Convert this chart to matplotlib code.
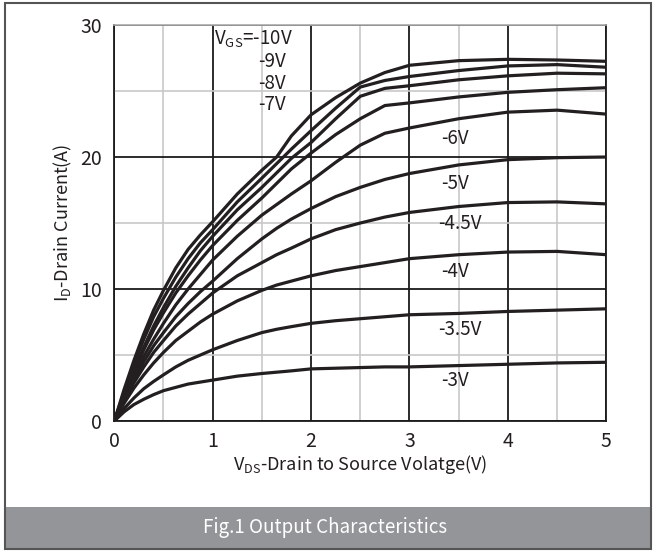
import numpy as np
import matplotlib
matplotlib.use("Agg")
import matplotlib.pyplot as plt
from matplotlib.patches import Rectangle

plt.rcParams['font.family'] = ['Noto Sans CJK SC', 'DejaVu Sans']
plt.rcParams['mathtext.fontset'] = 'custom'
plt.rcParams['mathtext.rm'] = 'Noto Sans CJK SC'
plt.rcParams['mathtext.it'] = 'Noto Sans CJK SC'

# drain-source voltage sample points (V)
vds = [0, 0.05, 0.1, 0.2, 0.3, 0.4, 0.5, 0.625, 0.75, 0.875, 1, 1.25, 1.5, 1.65, 1.8,
       2, 2.25, 2.5, 2.75, 3, 3.5, 4, 4.5, 5]

# drain current (A) for each gate voltage
id_10 = [0, 1.2, 2.4, 4.6, 6.6, 8.4, 9.9, 11.6, 13.0, 14.1, 15.1, 17.2, 19.0, 20.0, 21.6,
         23.2, 24.5, 25.6, 26.4, 26.95, 27.3, 27.4, 27.35, 27.25]
id_9 = [0, 1.1, 2.2, 4.3, 6.2, 7.9, 9.3, 10.9, 12.3, 13.5, 14.5, 16.6, 18.4, 19.5, 20.6,
        22.0, 23.7, 25.3, 25.8, 26.1, 26.55, 26.9, 27.0, 26.8]
id_8 = [0, 1.0, 2.0, 3.9, 5.6, 7.2, 8.6, 10.2, 11.6, 12.9, 14.0, 16.0, 17.7, 18.8, 19.9,
        21.1, 22.9, 24.6, 25.2, 25.4, 25.85, 26.15, 26.35, 26.3]
id_7 = [0, 1.0, 1.9, 3.7, 5.4, 6.9, 8.2, 9.7, 11.0, 12.2, 13.3, 15.2, 16.9, 18.0, 19.1,
        20.3, 21.7, 22.9, 23.9, 24.1, 24.55, 24.9, 25.1, 25.25]
id_6 = [0, 0.9, 1.8, 3.4, 4.9, 6.2, 7.4, 8.8, 10.0, 11.1, 12.2, 14.0, 15.6, 16.4, 17.2,
        18.2, 19.6, 20.9, 21.8, 22.2, 22.9, 23.4, 23.55, 23.25]
id_5 = [0, 0.85, 1.7, 3.2, 4.5, 5.7, 6.7, 7.9, 8.9, 9.8, 10.6, 12.3, 13.8, 14.6, 15.3,
        16.1, 17.0, 17.7, 18.3, 18.75, 19.4, 19.8, 19.95, 20.0]
id_45 = [0, 0.8, 1.55, 2.9, 4.1, 5.2, 6.1, 7.2, 8.1, 8.9, 9.7, 11.0, 12.0, 12.6, 13.1,
         13.8, 14.5, 15.0, 15.45, 15.8, 16.25, 16.55, 16.6, 16.45]
id_4 = [0, 0.7, 1.35, 2.5, 3.5, 4.4, 5.2, 6.1, 6.8, 7.5, 8.1, 9.1, 9.9, 10.3, 10.6,
        11.0, 11.4, 11.7, 12.0, 12.3, 12.6, 12.8, 12.85, 12.6]
id_35 = [0, 0.5, 0.95, 1.75, 2.45, 3.0, 3.5, 4.1, 4.6, 5.0, 5.4, 6.1, 6.7, 6.95, 7.15,
         7.4, 7.6, 7.75, 7.9, 8.05, 8.15, 8.3, 8.4, 8.5]
id_3 = [0, 0.35, 0.7, 1.25, 1.65, 2.0, 2.3, 2.55, 2.8, 2.95, 3.1, 3.4, 3.6, 3.7, 3.8,
        3.95, 4.0, 4.05, 4.1, 4.1, 4.2, 4.3, 4.4, 4.45]

curves = [id_10, id_9, id_8, id_7, id_6, id_5, id_45, id_4, id_35, id_3]

# curve labels and where they sit
labels = [r'V$_{\rm GS}$=-10V', '-9V', '-8V', '-7V', '-6V', '-5V', '-4.5V', '-4V', '-3.5V', '-3V']
label_x = [1.01, 1.46, 1.46, 1.46, 3.32, 3.32, 3.29, 3.32, 3.29, 3.32]
label_y = [28.9, 27.2, 25.6, 24.0, 21.4, 18.0, 15.0, 11.3, 6.9, 3.1]

fig = plt.figure(figsize=(6.55, 5.51), dpi=100)

# outer frame and caption banner
fig.patches.append(Rectangle((5 / 655, 3 / 551), 645 / 655, 41 / 551, transform=fig.transFigure,
                             facecolor='#939598', edgecolor='none', zorder=0))
fig.patches.append(Rectangle((4.5 / 655, 2.5 / 551), 646 / 655, 546 / 551, transform=fig.transFigure,
                             facecolor='none', edgecolor='#555555', linewidth=1.5, zorder=1))
fig.text(0.497, 23.5 / 551, 'Fig.1 Output Characteristics', color='white', fontsize=13.5,
         ha='center', va='center')

ax = fig.add_axes([0.1745, 0.2359, 0.7511, 0.7187])

for vals in curves:
    ax.plot(vds, vals, color='#231f20', linewidth=2.3, solid_joinstyle='round', zorder=3)

for text, lx, ly in zip(labels, label_x, label_y):
    ax.text(lx, ly, text, fontsize=13.5, ha='left', va='center', color='#231f20', zorder=4)

ax.set_xlim(0, 5)
ax.set_ylim(0, 30)
ax.set_xticks([0, 1, 2, 3, 4, 5])
ax.set_yticks([0, 10, 20, 30])
ax.set_xticks(np.arange(0.5, 5, 1.0), minor=True)
ax.set_yticks([5, 15, 25], minor=True)
ax.grid(which='major', color='#1a1a1a', linewidth=1.3, zorder=1)
ax.grid(which='minor', color='#c8c8c8', linewidth=1.2, zorder=1)
ax.set_axisbelow(True)
ax.tick_params(which='both', length=0, labelsize=14, colors='#231f20')
ax.tick_params(axis='y', pad=9)
ax.tick_params(axis='x', pad=7)

for side in ['left', 'right', 'bottom']:
    ax.spines[side].set_color('#1a1a1a')
    ax.spines[side].set_linewidth(1.3)
ax.spines['top'].set_color('#aaaaaa')
ax.spines['top'].set_linewidth(1.2)

ax.set_xlabel(r'V$_{\rm DS}$-Drain to Source Volatge(V)', fontsize=13, color='#231f20', labelpad=1)
ax.set_ylabel(r'I$_{\rm D}$-Drain Current(A)', fontsize=13, color='#231f20', labelpad=4)

fig.savefig('out.png', dpi=100)
